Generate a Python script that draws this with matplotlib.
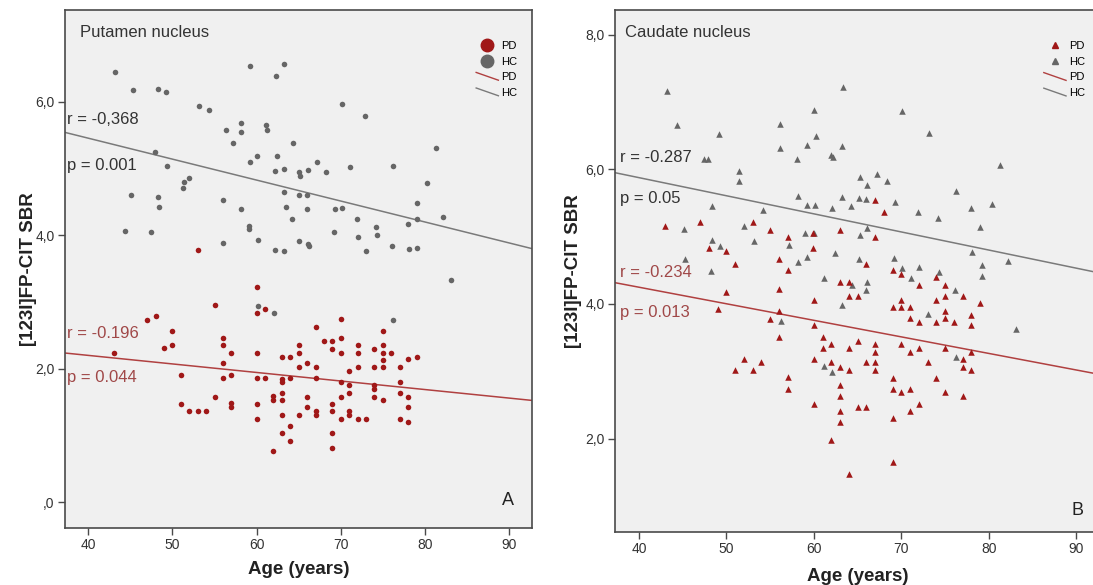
import matplotlib
matplotlib.use("Agg")
import matplotlib.pyplot as plt
from matplotlib.lines import Line2D
from matplotlib.legend_handler import HandlerBase
from matplotlib.ticker import FuncFormatter

plt.rcParams['font.family'] = ['Liberation Sans', 'DejaVu Sans']

# --- Putamen nucleus (panel A) ---
put_hc_age = [43.2, 45.3, 48.3, 49.2, 59.2, 63.2, 62.3, 53.1, 54.3, 56.3, 58.2, 58.2, 61.1, 61.2, 57.2,
              64.3, 47.9, 49.4, 60.0, 59.2, 62.4, 62.2, 63.2, 65.0, 52.0, 51.4, 51.3, 45.1, 48.3, 48.4,
              56.0, 58.1, 63.2, 63.5, 64.2, 65.0, 59.1, 59.1, 44.4, 47.4, 56.0, 60.2, 62.2, 63.3, 65.0,
              70.1, 72.9, 81.3, 67.2, 71.1, 76.2, 65.2, 66.1, 68.3, 80.3, 66.0, 66.0, 69.3, 70.1, 71.9,
              79.1, 79.0, 82.2, 78.0, 74.2, 74.3, 69.2, 72.0, 66.1, 66.2, 73.0, 76.1, 78.1, 79.1, 83.1,
              76.2, 60.2, 62.1]
put_hc_sbr = [6.45, 6.18, 6.19, 6.14, 6.53, 6.56, 6.38, 5.94, 5.88, 5.58, 5.68, 5.55, 5.65, 5.58, 5.38,
              5.38, 5.24, 5.04, 5.19, 5.10, 5.18, 4.96, 4.99, 4.94, 4.85, 4.80, 4.71, 4.60, 4.58, 4.43,
              4.53, 4.39, 4.65, 4.42, 4.24, 4.60, 4.14, 4.10, 4.06, 4.05, 3.88, 3.93, 3.78, 3.76, 3.92,
              5.96, 5.78, 5.31, 5.09, 5.02, 5.04, 4.89, 4.98, 4.94, 4.78, 4.61, 4.40, 4.39, 4.41, 4.25,
              4.49, 4.25, 4.27, 4.17, 4.13, 4.01, 4.05, 3.98, 3.87, 3.84, 3.76, 3.84, 3.80, 3.81, 3.33,
              2.73, 2.94, 2.83]

put_pd_age = [53, 60, 55, 60, 61, 47, 48, 50, 50, 49, 43, 56, 56, 57, 56, 57, 56, 51, 60, 60, 61, 63,
              64, 65, 65, 65, 63, 63, 64, 55, 51, 52, 53, 54, 57, 57, 60, 60, 62, 62, 63, 63, 63, 65,
              64, 63, 64, 62,
              67, 70, 70, 68, 69, 69, 70, 72, 72, 74, 75, 75, 75, 75, 76, 78, 79, 66, 67, 71, 72, 74,
              75, 77, 67, 70, 71, 71, 74, 74, 77, 77, 66, 70, 74, 75, 78, 66, 69, 69, 67, 67, 71, 71,
              70, 72, 73, 77, 78, 78, 69, 69]
put_pd_sbr = [3.78, 3.23, 2.96, 2.84, 2.90, 2.73, 2.79, 2.57, 2.36, 2.31, 2.24, 2.46, 2.35, 2.24, 2.08,
              1.91, 1.86, 1.91, 2.24, 1.86, 1.86, 2.18, 2.18, 2.35, 2.24, 2.03, 1.85, 1.80, 1.86, 1.58,
              1.47, 1.36, 1.36, 1.36, 1.48, 1.42, 1.47, 1.25, 1.59, 1.53, 1.64, 1.53, 1.31, 1.31, 1.14,
              1.03, 0.92, 0.76,
              2.63, 2.74, 2.46, 2.41, 2.41, 2.30, 2.24, 2.35, 2.24, 2.30, 2.57, 2.35, 2.24, 2.13, 2.24,
              2.14, 2.18, 2.08, 2.02, 1.97, 2.02, 2.02, 2.02, 2.02, 1.86, 1.80, 1.75, 1.64, 1.75, 1.69,
              1.80, 1.64, 1.58, 1.58, 1.58, 1.53, 1.58, 1.42, 1.47, 1.36, 1.36, 1.31, 1.36, 1.31, 1.25,
              1.25, 1.25, 1.25, 1.42, 1.20, 1.04, 0.81]

# fitted lines: (intercept, slope)
put_hc_fit = (6.71, -0.0314)
put_pd_fit = (2.71, -0.0128)

# --- Caudate nucleus (panel B) ---
cau_hc_age = [43.2, 44.3, 49.2, 60.0, 56.1, 60.2, 59.2, 56.1, 58.1, 62.0, 62.2, 63.3, 63.2, 47.4, 47.9,
              51.4, 51.4, 58.2, 59.2, 60.1, 62.1, 63.2, 54.2, 48.3, 45.1, 52.0, 53.1, 57.2, 59.0, 60.0,
              48.3, 49.3, 58.2, 59.2, 45.3, 48.2, 62.4, 61.2,
              63.2, 56.2, 61.1, 62.1,
              70.1, 73.1, 81.3, 65.3, 67.2, 66.1, 68.3, 76.2, 65.1, 66.0, 64.2, 69.3, 71.9, 74.2, 78.0,
              80.3, 79.0, 66.1, 65.3, 69.2, 70.1, 72.0, 74.3, 78.1, 79.2, 82.2, 79.2, 65.1, 71.1,
              64.3, 66.1, 66.0, 76.1, 73.0, 83.1, 76.2]
cau_hc_sbr = [7.16, 6.66, 6.52, 6.88, 6.67, 6.49, 6.36, 6.32, 6.16, 6.21, 6.18, 7.22, 6.35, 6.16, 6.16,
              5.98, 5.83, 5.60, 5.47, 5.47, 5.42, 5.59, 5.39, 5.45, 5.12, 5.16, 4.94, 4.87, 5.05, 5.05,
              4.95, 4.86, 4.62, 4.69, 4.67, 4.49, 4.75, 4.38,
              3.98, 3.75, 3.08, 2.99,
              6.86, 6.54, 6.06, 5.88, 5.93, 5.76, 5.82, 5.68, 5.58, 5.56, 5.45, 5.51, 5.36, 5.27, 5.42,
              5.48, 5.15, 5.13, 5.02, 4.68, 4.53, 4.55, 4.48, 4.77, 4.58, 4.64, 4.41, 4.66, 4.38,
              4.28, 4.32, 4.20, 4.21, 3.85, 3.62, 3.21]

cau_pd_age = [43, 47, 53, 55, 57, 59.9, 59.9, 63, 48, 50, 51, 56, 57,
              63, 49.9, 56, 49, 60, 56, 55, 60, 56, 61, 61, 62, 60, 62, 63, 52, 51, 53, 54, 57, 57,
              60, 63, 63, 63, 63, 62,
              67, 68, 67, 66, 69, 70, 74,
              72, 75, 64, 64, 65, 70, 74, 75, 77, 79, 69, 70, 71, 75, 71, 72, 74, 75, 76, 78, 78, 65,
              64, 67, 67, 70, 71, 72, 75, 78, 77, 77, 78, 73, 66, 67, 64, 67, 69, 74, 69, 70, 71, 75,
              77, 72, 65, 66, 71, 69, 69, 64]
cau_pd_sbr = [5.16, 5.22, 5.21, 5.10, 4.99, 5.05, 4.83, 5.10, 4.83, 4.79, 4.60, 4.66, 4.50,
              4.33, 4.17, 4.22, 3.93, 4.06, 3.89, 3.78, 3.68, 3.51, 3.51, 3.34, 3.40, 3.18, 3.13, 3.07,
              3.18, 3.02, 3.02, 3.13, 2.91, 2.74, 2.52, 2.79, 2.63, 2.41, 2.25, 1.98,
              5.54, 5.37, 4.99, 4.60, 4.50, 4.44, 4.40,
              4.28, 4.28, 4.33, 4.12, 4.12, 4.06, 4.06, 4.12, 4.12, 4.01, 3.95, 3.95, 3.95, 3.90, 3.79,
              3.73, 3.73, 3.79, 3.73, 3.84, 3.68, 3.45, 3.34, 3.40, 3.29, 3.40, 3.29, 3.34, 3.34, 3.29,
              3.18, 3.07, 3.02, 3.13, 3.13, 3.13, 3.02, 3.02, 2.90, 2.90, 2.74, 2.69, 2.74, 2.69, 2.63,
              2.52, 2.47, 2.47, 2.41, 2.30, 1.65, 1.48]

cau_hc_fit = (6.952, -0.0269)
cau_pd_fit = (5.232, -0.0246)

RED = '#a01818'
GRAY = '#666666'
RED_LINE = '#b04040'
GRAY_LINE = '#7a7a7a'
BG = '#f0f0f0'
FRAME = '#4a4a4a'


class DiagHandler(HandlerBase):
    # SPSS style legend entry: a short slanted line
    def create_artists(self, legend, orig_handle, xdescent, ydescent, width, height, fontsize, trans):
        ln = Line2D([-xdescent, -xdescent + width], [-ydescent + height * 1.0, -ydescent],
                    color=orig_handle.get_color(), lw=1.0, transform=trans)
        return [ln]


def sbr_fmt(v, pos):
    s = f"{v:.1f}".replace('.', ',')
    return s[1:] if s.startswith('0') else s


def style_axes(ax, xlim, ylim, yticks, xpad):
    ax.set_facecolor(BG)
    ax.set_xlim(*xlim)
    ax.set_ylim(*ylim)
    ax.set_xticks([40, 50, 60, 70, 80, 90])
    ax.set_yticks(yticks)
    ax.yaxis.set_major_formatter(FuncFormatter(sbr_fmt))
    ax.tick_params(direction='out', length=5, width=1, pad=2.5, color=FRAME, labelcolor='#333333',
                   labelsize=10)
    for sp in ax.spines.values():
        sp.set_color(FRAME)
        sp.set_linewidth(1.2)
    ax.set_xlabel('Age (years)', fontsize=13.5, fontweight='bold', color='#222222', labelpad=xpad)
    ax.set_ylabel('[123I]FP-CIT SBR', fontsize=13.5, fontweight='bold', color='#222222', labelpad=2)


def fit_line(ax, fit, color):
    x0, x1 = ax.get_xlim()
    b, m = fit
    ax.plot([x0, x1], [b + m * x0, b + m * x1], color=color, lw=1.1, zorder=2)


def add_legend(ax, marker, msize, anchor):
    h = [Line2D([], [], ls='', marker=marker, markersize=msize, color=RED),
         Line2D([], [], ls='', marker=marker, markersize=msize, color=GRAY),
         Line2D([], [], color=RED_LINE), Line2D([], [], color=GRAY_LINE)]
    ax.legend(h, ['PD', 'HC', 'PD', 'HC'], loc='upper right', bbox_to_anchor=anchor, frameon=False,
              fontsize=8, handlelength=2.0, handletextpad=0.25, labelspacing=0.5, borderpad=0.2,
              handler_map={h[2]: DiagHandler(), h[3]: DiagHandler()})


fig = plt.figure(figsize=(10.93, 5.85), dpi=100)
ax1 = fig.add_axes([0.0595, 0.0974, 0.4273, 0.8855])
ax2 = fig.add_axes([0.5627, 0.0906, 0.4437, 0.8923])

# panel A
style_axes(ax1, (37.23, 92.73), (-0.39, 7.376), [0, 2, 4, 6], 6)
ax1.yaxis.set_label_coords(-0.06, 0.5)
ax1.scatter(put_hc_age, put_hc_sbr, s=16, color=GRAY, marker='o', linewidths=0, zorder=3)
ax1.scatter(put_pd_age, put_pd_sbr, s=16, color=RED, marker='o', linewidths=0, zorder=3)
fit_line(ax1, put_hc_fit, GRAY_LINE)
fit_line(ax1, put_pd_fit, RED_LINE)
ax1.text(0.032, 0.956, 'Putamen nucleus', transform=ax1.transAxes, fontsize=12, color='#333333', va='center')
ax1.text(0.004, 0.788, 'r = -0,368', transform=ax1.transAxes, fontsize=12, color='#333333', va='center')
ax1.text(0.004, 0.699, 'p = 0.001', transform=ax1.transAxes, fontsize=12, color='#333333', va='center')
ax1.text(0.004, 0.375, 'r = -0.196', transform=ax1.transAxes, fontsize=12, color='#a04848', va='center')
ax1.text(0.004, 0.290, 'p = 0.044', transform=ax1.transAxes, fontsize=12, color='#a04848', va='center')
ax1.text(0.949, 0.054, 'A', transform=ax1.transAxes, fontsize=13, color='#222222', ha='center', va='center')
add_legend(ax1, 'o', 9, (0.985, 0.955))

# panel B
style_axes(ax2, (37.26, 92.7), (0.611, 8.367), [2, 4, 6, 8], 8)
ax2.spines['right'].set_visible(False)
ax2.scatter(cau_hc_age, cau_hc_sbr, s=22, color=GRAY, marker='^', linewidths=0, zorder=3)
ax2.scatter(cau_pd_age, cau_pd_sbr, s=22, color=RED, marker='^', linewidths=0, zorder=3)
fit_line(ax2, cau_hc_fit, GRAY_LINE)
fit_line(ax2, cau_pd_fit, RED_LINE)
ax2.text(0.021, 0.956, 'Caudate nucleus', transform=ax2.transAxes, fontsize=12, color='#333333', va='center')
ax2.text(0.010, 0.718, 'r = -0.287', transform=ax2.transAxes, fontsize=12, color='#333333', va='center')
ax2.text(0.010, 0.638, 'p = 0.05', transform=ax2.transAxes, fontsize=12, color='#333333', va='center')
ax2.text(0.010, 0.498, 'r = -0.234', transform=ax2.transAxes, fontsize=12, color='#a04848', va='center')
ax2.text(0.010, 0.421, 'p = 0.013', transform=ax2.transAxes, fontsize=12, color='#a04848', va='center')
ax2.text(0.953, 0.042, 'B', transform=ax2.transAxes, fontsize=13, color='#222222', ha='center', va='center')
add_legend(ax2, '^', 5, (0.985, 0.955))

fig.savefig('out.png', dpi=100, facecolor='white')
